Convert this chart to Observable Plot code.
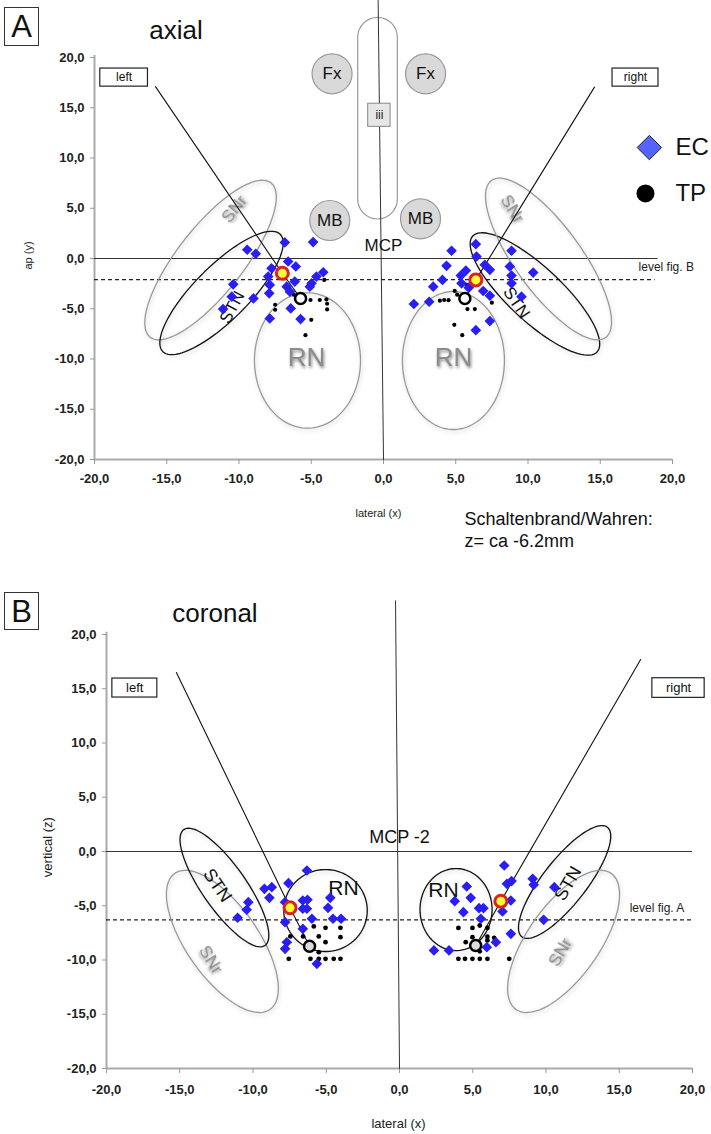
<!DOCTYPE html>
<html>
<head>
<meta charset="utf-8">
<script src="https://cdn.jsdelivr.net/npm/d3@7"></script>
<script src="https://cdn.jsdelivr.net/npm/@observablehq/plot@0.6"></script>
<style>
  body { margin: 0; background: #fff; font-family: "Liberation Sans", Arial, sans-serif; }
  #wrap { position: relative; width: 711px; height: 1134px; overflow: hidden; }
  #wrap svg { position: absolute; left: 0; }
  .pl { position: absolute; border: 1.5px solid #333; box-sizing: border-box; font-size: 31px; line-height: 1; display: flex; align-items: center; justify-content: center; color: #111; background: #fff; }
  .ttl { position: absolute; font-size: 26px; color: #111; transform: translate(-50%, -50%); white-space: nowrap; }
  g[aria-label="x-axis tick label"] text, g[aria-label="y-axis tick label"] text { font-weight: bold; }
  g[aria-description="shadow"] text { filter: drop-shadow(1px 2px 1.5px rgba(0,0,0,0.45)); }
  g[aria-description="soft"] path { filter: drop-shadow(1px 2px 2px rgba(0,0,0,0.18)); }
</style>
</head>
<body>
<div id="wrap">
  <div class="pl" style="left:4px;top:7px;width:35px;height:39px;">A</div>
  <div class="ttl" style="left:176px;top:30px;">axial</div>
  <div class="pl" style="left:4px;top:592px;width:35px;height:38px;">B</div>
  <div class="ttl" style="left:215px;top:613px;">coronal</div>
</div>
<script>
// ---------- tick values ----------
const xTicks = [-20, -15, -10, -5, 0, 5, 10, 15, 20];
const yTicks = [-20, -15, -10, -5, 0, 5, 10, 15, 20];
const fmt = d => d.toFixed(1).replace(".", ",");

// ---------- Panel A (axial): electrode contacts (EC) and test points (TP) ----------
const ecLeftA = [[-9.43,0.87],[-8.84,0.47],[-6.83,1.6],[-4.87,1.63],[-6.6,-0.3],[-6.07,-0.8],[-7.75,-0.97],[-7.98,-1.8],
  [-10.4,-2.57],[-10.5,-3.8],[-9.0,-3.97],[-11.1,-5.03],[-7.87,-2.63],[-7.91,-3.47],[-6.7,-2.8],[-6.48,-3.3],[-6.14,-2.3],
  [-4.98,-2.47],[-4.64,-1.8],[-4.17,-1.37],[-5.1,-2.8],[-6.42,-4.97],[-7.87,-5.97],[-5.74,-6.03]];
const ecRightA = [[4.71,0.77],[6.39,1.43],[8.86,0.77],[6.44,0.2],[4.36,-0.73],[5.35,-1.7],[4.08,-2.13],[3.44,-2.8],
  [5.4,-2.47],[7.01,-0.63],[7.36,-1.13],[8.74,-0.8],[8.86,-1.7],[10.36,-1.4],[8.86,-2.47],[6.9,-3.23],[7.36,-3.7],
  [9.55,-3.8],[3.16,-4.3],[2.1,-4.53],[7.36,-6.23],[6.39,-7.13],[5.7,-1.2],[5.9,-2.9]];
const tpLeftA = [[-7.5,-4.6],[-7.5,-5.1],[-5.05,-4.13],[-4.41,-4.13],[-3.95,-4.07],[-3.9,-4.5],[-3.9,-5.07],
  [-4.1,-2.13],[-5.0,-6.1],[-5.4,-7.63],[-6.2,-3.6]];
const tpRightA = [[3.9,-4.2],[4.2,-4.13],[4.5,-4.15],[4.93,-3.23],[5.1,-3.6],[5.81,-5.03],[6.32,-5.03],[5.81,-4.3],
  [7.5,-4.4],[4.9,-6.6],[5.45,-7.63],[5.74,-2.63]];
const ecMeanA = [[-7.0,-1.47],[6.39,-2.13]];
const tpMeanA = [[-5.74,-3.97],[5.63,-3.97]];

// ---------- Panel B (coronal) ----------
const ecLeftB = [[-6.32,-1.75],[-9.22,-3.44],[-8.72,-3.29],[-8.88,-4.27],[-7.58,-2.92],[-10.32,-4.67],[-10.43,-5.37],
  [-11.05,-6.11],[-7.81,-4.67],[-6.6,-4.52],[-6.28,-4.45],[-6.32,-5.28],[-6.6,-5.28],[-4.73,-4.27],[-4.88,-5.19],
  [-5.98,-6.2],[-4.54,-6.2],[-3.99,-6.2],[-7.81,-6.51],[-6.6,-7.13],[-7.69,-8.36],[-7.81,-8.97],[-5.64,-10.35]];
const ecRightB = [[7.15,-1.29],[9.09,-2.52],[9.16,-3.07],[10.57,-3.29],[7.33,-2.98],[7.65,-2.73],[4.59,-3.23],
  [3.77,-4.58],[4.86,-4.27],[7.6,-4.52],[4.36,-5.59],[5.43,-5.22],[5.73,-5.22],[7.03,-5.53],[5.55,-6.2],[9.84,-6.3],
  [7.6,-7.59],[6.58,-8.36],[5.96,-8.82],[2.35,-9.12],[3.38,-9.12]];
const tpLeftB = [[-5.85,-6.91],[-5.05,-7.03],[-4.03,-7.03],[-7.45,-7.83],[-6.58,-7.83],[-5.51,-7.83],[-4.03,-7.9],
  [-5.05,-8.36],[-5.51,-9.28],[-7.56,-9.89],[-6.08,-9.89],[-5.51,-9.89],[-5.05,-9.89],[-4.49,-9.89],[-4.03,-9.89]];
const tpRightB = [[4.02,-7.04],[4.98,-7.04],[5.48,-6.82],[6.0,-7.04],[4.98,-7.9],[6.0,-7.85],[6.0,-8.2],[6.46,-7.96],
  [4.52,-8.36],[5.96,-8.88],[4.02,-9.89],[4.47,-9.89],[4.98,-9.89],[5.48,-9.89],[6.0,-9.89],[7.49,-9.89],[5.48,-9.2]];
const ecMeanB = [[-7.47,-5.19],[6.92,-4.58]];
const tpMeanB = [[-6.14,-8.73],[5.2,-8.66]];

// ---------- anatomical outlines (centre + two conjugate semi-axes, data units) ----------
const structA = [
  {id:"SNr-L", kind:"SNr", cx:-11.97, cy:-0.15, ux:4.18, uy:7.68, vx:1.80, vy:-2.02},
  {id:"STN-L", kind:"STN", cx:-11.21, cy:-3.43, ux:4.06, uy:5.84, vx:1.32, vy:-1.90},
  {id:"RN-L",  kind:"RN",  cx:-5.26, cy:-10.15, ux:3.67, uy:0, vx:0, vy:6.74},
  {id:"RN-R",  kind:"RN",  cx:4.84, cy:-10.15, ux:3.53, uy:0, vx:0, vy:6.87},
  {id:"STN-R", kind:"STN", cx:10.48, cy:-3.53, ux:4.30, uy:-5.77, vx:1.27, vy:1.96},
  {id:"SNr-R", kind:"SNr", cx:11.42, cy:-0.05, ux:3.95, uy:-7.81, vx:1.85, vy:1.93}
];
const structB = [
  {id:"SNr-L", kind:"SNr", cx:-12.09, cy:-8.29, ux:3.25, uy:-6.27, vx:2.01, vy:1.90},
  {id:"STN-L", kind:"STN", cx:-11.95, cy:-3.32, ux:2.77, uy:-5.34, vx:1.23, vy:1.16},
  {id:"RN-L",  kind:"RN",  cx:-5.05, cy:-5.44, ux:2.85, uy:0, vx:0, vy:3.78},
  {id:"RN-R",  kind:"RN",  cx:3.86, cy:-5.35, ux:2.46, uy:0, vx:0, vy:3.78},
  {id:"STN-R", kind:"STN", cx:11.27, cy:-2.81, ux:2.92, uy:5.05, vx:1.18, vy:-1.25},
  {id:"SNr-R", kind:"SNr", cx:11.2, cy:-8.29, ux:3.25, uy:6.27, vx:2.01, vy:-1.90}
];

function outline(s) {
  const pts = [];
  for (let i = 0; i <= 90; i++) {
    const t = i / 90 * 2 * Math.PI;
    pts.push({id: s.id, kind: s.kind,
      x: s.cx + s.ux * Math.cos(t) + s.vx * Math.sin(t),
      y: s.cy + s.uy * Math.cos(t) + s.vy * Math.sin(t)});
  }
  return pts;
}

const font = "'Liberation Sans', Arial, sans-serif";
const X = d => d[0], Y = d => d[1];
const wrap = document.getElementById("wrap");

function axes(tickPadX) {
  return [
    Plot.ruleX([-20], {y1: -20, y2: 20.2, stroke: "#aaa", strokeWidth: 2}),
    Plot.ruleY([-20], {x1: -20, x2: 20, stroke: "#aaa", strokeWidth: 2}),
    Plot.axisX(xTicks, {tickFormat: fmt, tickSize: 5, tickPadding: tickPadX, stroke: "#999", fill: "#222", fontSize: 13, label: null}),
    Plot.axisY(yTicks, {tickFormat: fmt, tickSize: 4, tickPadding: 6, stroke: "#999", fill: "#222", fontSize: 13, label: null})
  ];
}

function points(ecL, ecR, tpL, tpR, ecM, tpM, tpFill, tpR2) {
  return [
    Plot.dot(tpL.concat(tpR), {x: X, y: Y, r: tpR2, fill: "#000"}),
    Plot.dot(ecL.concat(ecR), {x: X, y: Y, symbol: "diamond2", r: 4.8, fill: "#2a1ff2"}),
    Plot.dot(tpM, {x: X, y: Y, r: 5.5, fill: tpFill, stroke: "#000", strokeWidth: 2.5}),
    Plot.dot(ecM, {x: X, y: Y, r: 6, fill: "#ffff3a", stroke: "#dd2020", strokeWidth: 3})
  ];
}

// ================= Panel A =================
const ringsA = structA.flatMap(outline);
const svgA = Plot.plot({
  width: 711, height: 590,
  marginLeft: 94, marginRight: 39, marginTop: 57, marginBottom: 131,
  x: {domain: [-20, 20]}, y: {domain: [-20, 20]},
  style: {fontFamily: font, fontSize: "12px", color: "#222", background: "transparent", overflow: "visible"},
  marks: [
    ...axes(9),
    // third ventricle outline and midline
    Plot.rect([{x1: -1.75, x2: 0.99, y1: 3.88, y2: 23.95}], {x1: "x1", x2: "x2", y1: "y1", y2: "y2", rx: 20, fill: "none", stroke: "#999", strokeWidth: 1.2}),
    Plot.line([[-0.37, 25.67], [0, -20]], {x: X, y: Y, stroke: "#333", strokeWidth: 1}),
    Plot.rect([{x1: -1.06, x2: 0.49, y1: 13.1, y2: 15.4}], {x1: "x1", x2: "x2", y1: "y1", y2: "y2", fill: "#e6e6e6", stroke: "#888"}),
    Plot.text(["iii"], {x: -0.28, y: 14.25, text: d => d, fontSize: 12, fill: "#222"}),
    // Fx / MB
    Plot.dot([[-3.56, 18.38], [2.91, 18.38], [-3.72, 3.78], [2.56, 3.95]], {x: X, y: Y, r: 20, fill: "#d9d9d9", stroke: "#9a9a9a", strokeWidth: 1.2, ariaDescription: "soft"}),
    Plot.text([["Fx", -3.56, 18.38], ["Fx", 2.91, 18.38], ["MB", -3.72, 3.78], ["MB", 2.56, 3.95]], {x: d => d[1], y: d => d[2], text: d => d[0], fontSize: 17, fill: "#111"}),
    // MCP and level lines
    Plot.ruleY([0], {x1: -20, x2: 19.0, stroke: "#333", strokeWidth: 1}),
    Plot.ruleY([-2.1], {x1: -20, x2: 18.8, stroke: "#222", strokeWidth: 1.1, strokeDasharray: "4,3"}),
    Plot.text(["MCP"], {x: 0, y: 1.3, text: d => d, fontSize: 17, fill: "#111"}),
    Plot.text(["level fig. B"], {x: 17.65, y: -0.9, text: d => d, fontSize: 12, fill: "#222", textAnchor: "start"}),
    // structures
    Plot.line(ringsA, {x: "x", y: "y", z: "id", stroke: d => d.kind === "STN" ? "#111" : "#999", strokeWidth: 1.3, ariaDescription: "soft"}),
    Plot.text([["SNr", -10.3, 4.9, -52], ["SNr", 8.9, 4.9, 58]], {x: d => d[1], y: d => d[2], text: d => d[0], rotate: d => d[3], fontSize: 17, fill: "#8a8a8a", ariaDescription: "shadow"}),
    Plot.text([["STN", -10.47, -4.85, -62], ["STN", 9.2, -4.4, 56]], {x: d => d[1], y: d => d[2], text: d => d[0], rotate: d => d[3], fontSize: 17, fill: "#111"}),
    Plot.text([["RN", -5.33, -9.85], ["RN", 4.84, -9.85]], {x: d => d[1], y: d => d[2], text: d => d[0], fontSize: 26, fill: "#8c8c8c", ariaDescription: "shadow"}),
    // left / right boxes and trajectories
    Plot.line([[-15.78, 17.1], ecMeanA[0], tpMeanA[0]], {x: X, y: Y, stroke: "#111", strokeWidth: 1.1}),
    Plot.line([[14.6, 17.05], ecMeanA[1], tpMeanA[1]], {x: X, y: Y, stroke: "#111", strokeWidth: 1.1}),
    Plot.rect([{x1: -19.6, x2: -16.3, y1: 17.1, y2: 18.9}, {x1: 15.85, x2: 19.03, y1: 17.1, y2: 18.9}], {x1: "x1", x2: "x2", y1: "y1", y2: "y2", fill: "white", stroke: "#222", strokeWidth: 1.2}),
    Plot.text([["left", -17.95, 18.0], ["right", 17.44, 18.0]], {x: d => d[1], y: d => d[2], text: d => d[0], fontSize: 12, fill: "#111"}),
    // data
    ...points(ecLeftA, ecRightA, tpLeftA, tpRightA, ecMeanA, tpMeanA, "white", 2.1),
    // legend
    Plot.dot([[18.4, 11.04]], {x: X, y: Y, symbol: "diamond2", r: 11, fill: "#5563ff", stroke: "#222", strokeWidth: 1}),
    Plot.dot([[18.13, 6.47]], {x: X, y: Y, r: 9, fill: "#000"}),
    Plot.text([["EC", 20.2, 11.04], ["TP", 20.2, 6.47]], {x: d => d[1], y: d => d[2], text: d => d[0], fontSize: 24, fill: "#111", textAnchor: "start"}),
    // axis titles and note
    Plot.text(["ap (y)"], {x: -24.6, y: 0.3, text: d => d, rotate: -90, fontSize: 11, fill: "#222"}),
    Plot.text(["lateral (x)"], {x: -0.35, y: -25.4, text: d => d, fontSize: 11, fill: "#222"}),
    Plot.text(["Schaltenbrand/Wahren:", "z= ca -6.2mm"], {x: 5.6, y: (d, i) => -25.9 - 2.25 * i, text: d => d, fontSize: 18, fill: "#111", textAnchor: "start"})
  ]
});
svgA.style.top = "0px";
wrap.appendChild(svgA);

// ================= Panel B =================
const ringsB = structB.flatMap(outline);
const svgB = Plot.plot({
  width: 711, height: 544,
  marginLeft: 106, marginRight: 19, marginTop: 44, marginBottom: 66,
  x: {domain: [-20, 20]}, y: {domain: [-20, 20]},
  style: {fontFamily: font, fontSize: "12px", color: "#222", background: "transparent", overflow: "visible"},
  marks: [
    ...axes(11),
    Plot.line([[-0.27, 23.1], [0, -20]], {x: X, y: Y, stroke: "#333", strokeWidth: 1}),
    Plot.ruleY([0], {x1: -20, x2: 20, stroke: "#333", strokeWidth: 1}),
    Plot.ruleY([-6.3], {x1: -20, x2: 20, stroke: "#222", strokeWidth: 1.1, strokeDasharray: "4,3"}),
    Plot.text(["MCP -2"], {x: 0, y: 1.3, text: d => d, fontSize: 18, fill: "#111"}),
    Plot.text(["level fig. A"], {x: 15.71, y: -5.25, text: d => d, fontSize: 12, fill: "#222", textAnchor: "start"}),
    Plot.line(ringsB, {x: "x", y: "y", z: "id", stroke: d => d.kind === "SNr" ? "#999" : "#111", strokeWidth: 1.3, ariaDescription: "soft"}),
    Plot.text([["SNr", -12.9, -10.0, 58], ["SNr", 11.0, -9.3, -60]], {x: d => d[1], y: d => d[2], text: d => d[0], rotate: d => d[3], fontSize: 17, fill: "#8a8a8a", ariaDescription: "shadow"}),
    Plot.text([["STN", -12.43, -3.13, 56], ["STN", 11.5, -2.95, -60]], {x: d => d[1], y: d => d[2], text: d => d[0], rotate: d => d[3], fontSize: 18, fill: "#111"}),
    Plot.text([["RN", -3.83, -3.4], ["RN", 3.0, -3.6]], {x: d => d[1], y: d => d[2], text: d => d[0], fontSize: 21, fill: "#111"}),
    Plot.line([[-15.23, 16.5], ecMeanB[0], tpMeanB[0]], {x: X, y: Y, stroke: "#111", strokeWidth: 1.1}),
    Plot.line([[16.46, 17.7], ecMeanB[1], tpMeanB[1]], {x: X, y: Y, stroke: "#111", strokeWidth: 1.1}),
    Plot.rect([{x1: -19.6, x2: -16.53, y1: 14.19, y2: 15.94}, {x1: 17.26, x2: 20.83, y1: 14.16, y2: 15.97}], {x1: "x1", x2: "x2", y1: "y1", y2: "y2", fill: "white", stroke: "#222", strokeWidth: 1.2}),
    Plot.text([["left", -18.07, 15.07], ["right", 19.05, 15.07]], {x: d => d[1], y: d => d[2], text: d => d[0], fontSize: 13, fill: "#111"}),
    ...points(ecLeftB, ecRightB, tpLeftB, tpRightB, ecMeanB, tpMeanB, "#dcdcdc", 2.4),
    Plot.text(["vertical (z)"], {x: -24.0, y: 0.4, text: d => d, rotate: -90, fontSize: 13, fill: "#222"}),
    Plot.text(["lateral (x)"], {x: -0.07, y: -25.1, text: d => d, fontSize: 13, fill: "#222"})
  ]
});
svgB.style.top = "590px";
wrap.appendChild(svgB);
</script>
</body>
</html>
